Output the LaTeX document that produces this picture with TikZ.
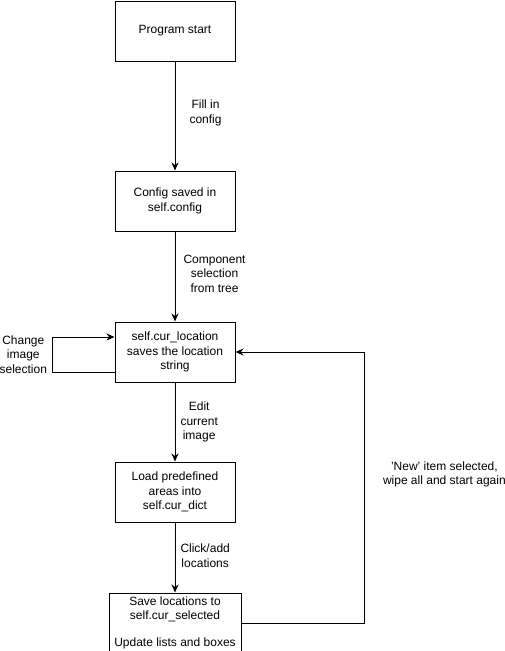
\documentclass[tikz,border=0pt]{standalone}
\usepackage{fontspec}
\setmainfont{Liberation Sans}
\usetikzlibrary{positioning,arrows.meta}

\tikzset{
    box/.style={rectangle, draw, line width=1pt, minimum width=120pt, minimum height=60pt,
        align=center, inner sep=2pt, font=\fontsize{12}{14.5}\selectfont},
    lbl/.style={align=center, inner sep=0pt, font=\fontsize{12}{14.5}\selectfont}
}

\begin{document}
\begin{tikzpicture}[-{Stealth[length=8pt,width=7pt]}, line width=1pt]
        \useasboundingbox (0pt,0pt) rectangle (505pt,-651pt);
        % Nodes
        \node (start) [box] at (175pt,-31pt) {Program start};
        \node (config) [box, below=109pt of start] {Config saved in\\self.config};
        \node (loc) [box, below=90pt of config] {self.cur\_location\\saves the location\\string};
        \node (load) [box, below=79pt of loc] {Load predefined\\areas into\\self.cur\_dict};
        \node (save) [box, minimum width=132pt, below=70pt of load,
            font=\fontsize{12}{14}\selectfont] {Save locations to\\self.cur\_selected\\[13pt]Update lists and boxes};

        % Edges with labels
        \draw (start) -- (config) node[midway, lbl, right=14pt, yshift=3pt] {Fill in\\config};
        \draw (config) -- (loc) node[midway, lbl, right=8pt, yshift=3pt] {Component\\selection\\from tree};
        \draw (loc) -- (load) node[midway, lbl, right=5pt] {Edit\\current\\image};
        \draw (load) -- (save) node[midway, lbl, right=5pt, yshift=2pt] {Click/add\\locations};
        \draw ([yshift=-20pt]loc.west) -- ++(-62pt,0pt) |- node[pos=0.25, lbl, left=5pt] {Change\\image\\selection} ([yshift=15pt]loc.west);
        \draw (save.east) -- ++(123pt,0pt) |- node[pos=0.274, lbl, right=18pt] {'New' item selected,\\wipe all and start again} (loc.east);
    \end{tikzpicture}
\end{document}
